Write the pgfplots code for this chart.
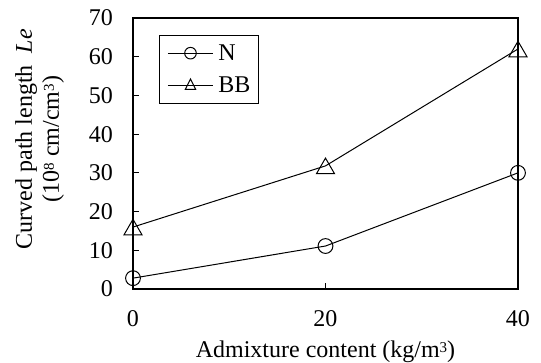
\documentclass[border=0pt]{standalone}
\usepackage{fontspec}
\setmainfont{Liberation Serif}
\usepackage{pgfplots}
\pgfplotsset{compat=1.18}

% small raised figure for units
\newcommand\sups[1]{\raisebox{5pt}{\fontsize{15}{15}\selectfont #1}}

\begin{document}
\begin{tikzpicture}[font=\fontsize{24}{24}\selectfont]
\begin{axis}[
  at={(0pt,0pt)}, anchor=south west,
  scale only axis, width=385pt, height=271pt,
  xmin=0, xmax=40, ymin=0, ymax=70,
  xtick={0,20,40}, ytick={0,10,...,70},
  tick align=inside, xtick pos=bottom, ytick pos=left,
  major tick length=6pt,
  axis line style={line width=1.3pt},
  tick style={line width=1pt, black},
  /pgf/number format/assume math mode=true,
  ticklabel style={font=\fontsize{24}{24}\selectfont},
  xticklabel style={anchor=north, inner sep=0pt, yshift=-21pt},
  yticklabel style={anchor=east, inner sep=0pt, xshift=-20pt},
  xlabel={Admixture content (kg/m\sups{3})},
  xlabel style={at={(rel axis cs:0.5,0)}, anchor=base, yshift=-69pt, inner sep=0pt},
  ylabel={Curved path length\ \ \textit{Le}\\[3pt](10\sups{8} cm/cm\sups{3})},
  ylabel style={at={(rel axis cs:-0.2429,0.553)}, anchor=center, align=center,
    inner sep=0pt, font=\fontsize{24}{24}\selectfont},
  clip=false,
  legend style={at={(rel axis cs:0.0675,0.937)}, anchor=north west,
    draw=black, line width=1pt, inner xsep=8pt, inner ysep=9pt,
    row sep=15pt, font=\fontsize{24}{24}\selectfont,
    nodes={inner sep=0pt}, column sep=5pt},
  legend cell align=left,
]
\addplot[black, line width=1pt, mark=o, mark size=7.4pt, mark options={solid},
  legend image code/.code={
    \draw[black, line width=1pt] (0pt,0pt) -- (45pt,0pt);
    \draw[black, line width=1pt] (22.5pt,0pt) circle (5.8pt);
  }]
  coordinates {(0,2.8) (20,11.1) (40,30.0)};
\addlegendentry{N}
\addplot[black, line width=1pt, mark=triangle, mark size=10.4pt,
  mark options={solid, yshift=-2.6pt},
  legend image code/.code={
    \draw[black, line width=1pt] (0pt,0pt) -- (45pt,0pt);
    \draw[black, line width=1pt] (22.5pt,6.5pt) -- (17.3pt,-4pt) -- (27.7pt,-4pt) -- cycle;
  }]
  coordinates {(0,16) (20,31.8) (40,62)};
\addlegendentry{BB}
\end{axis}
\pgfresetboundingbox
\path[use as bounding box] (-133pt,-74pt) rectangle (408pt,289pt);
\end{tikzpicture}
\end{document}
